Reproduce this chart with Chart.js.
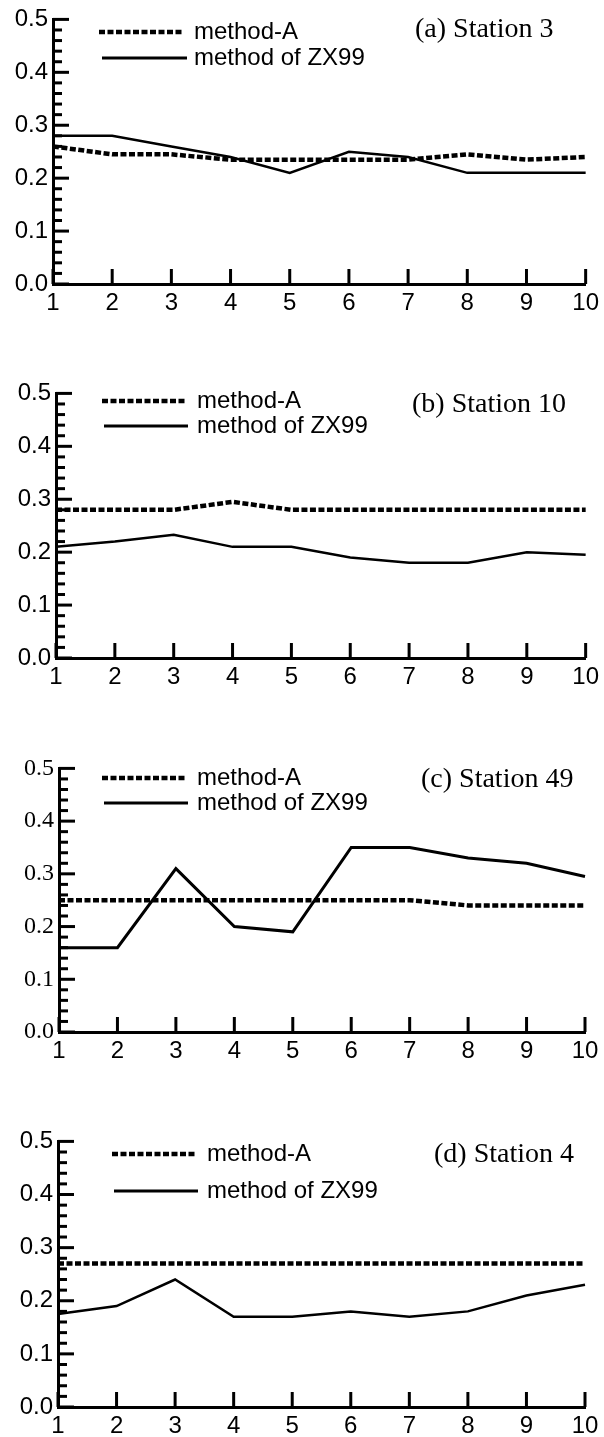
<!DOCTYPE html>
<html>
<head>
<meta charset="utf-8">
<script src="https://cdn.jsdelivr.net/npm/chart.js@4.4.1/dist/chart.umd.min.js"></script>
<style>
  html, body { margin: 0; padding: 0; background: #fff; }
  #wrap { position: relative; width: 604px; height: 1437px; overflow: hidden; background: #fff; }
  #wrap canvas { position: absolute; left: 0; }
</style>
</head>
<body>
<div id="wrap"></div>
<script>
// Categories along the horizontal axis
const steps = ['1', '2', '3', '4', '5', '6', '7', '8', '9', '10'];

// Series values per station
const station3MethodA = [0.26, 0.245, 0.245, 0.235, 0.235, 0.235, 0.235, 0.245, 0.235, 0.24];
const station3ZX99    = [0.28, 0.28, 0.26, 0.24, 0.21, 0.25, 0.24, 0.21, 0.21, 0.21];

const station10MethodA = [0.28, 0.28, 0.28, 0.295, 0.28, 0.28, 0.28, 0.28, 0.28, 0.28];
const station10ZX99    = [0.21, 0.22, 0.233, 0.21, 0.21, 0.19, 0.18, 0.18, 0.2, 0.195];

const station49MethodA = [0.25, 0.25, 0.25, 0.25, 0.25, 0.25, 0.25, 0.24, 0.24, 0.24];
const station49ZX99    = [0.16, 0.16, 0.31, 0.2, 0.19, 0.35, 0.35, 0.33, 0.32, 0.295];

const station4MethodA = [0.27, 0.27, 0.27, 0.27, 0.27, 0.27, 0.27, 0.27, 0.27, 0.27];
const station4ZX99    = [0.175, 0.19, 0.24, 0.17, 0.17, 0.18, 0.17, 0.18, 0.21, 0.23];

// Legend entries and panel captions
const legendLabels = ['method-A', 'method of ZX99'];
const panelTitles = ['(a) Station 3', '(b) Station 10', '(c) Station 49', '(d) Station 4'];

// Value axis range and label step
const yMin = 0, yMax = 0.5, yMajorStep = 0.1, yMinorStep = 0.02;

const SANS = "'Liberation Sans', Arial, sans-serif";
const SERIF = "'Liberation Serif', 'Times New Roman', serif";

// Page placement of each panel (plot box, legend and caption positions)
const panels = [
  { title: panelTitles[0], methodA: station3MethodA, zx99: station3ZX99,
    box: { left: 53, right: 586, top: 16, bottom: 284 },
    legend: { dx1: 99, dx2: 184, dy: 32, sx1: 102, sx2: 187, sy: 58, tx: 194 },
    caption: { x: 415, y: 30 }, yFont: SANS, zWidth: 2.5 },
  { title: panelTitles[1], methodA: station10MethodA, zx99: station10ZX99,
    box: { left: 56, right: 588, top: 390, bottom: 658 },
    legend: { dx1: 102, dx2: 187, dy: 401, sx1: 104, sx2: 188, sy: 426, tx: 197 },
    caption: { x: 412, y: 405 }, yFont: SANS, zWidth: 2.5 },
  { title: panelTitles[2], methodA: station49MethodA, zx99: station49ZX99,
    box: { left: 59, right: 585, top: 765, bottom: 1032 },
    legend: { dx1: 102, dx2: 187, dy: 778, sx1: 104, sx2: 188, sy: 803, tx: 197 },
    caption: { x: 421, y: 780 }, yFont: SERIF, zWidth: 3 },
  { title: panelTitles[3], methodA: station4MethodA, zx99: station4ZX99,
    box: { left: 58, right: 585, top: 1138, bottom: 1407 },
    legend: { dx1: 112, dx2: 197, dy: 1154, sx1: 114, sx2: 198, sy: 1191, tx: 207 },
    caption: { x: 434, y: 1155 }, yFont: SANS, zWidth: 2.5 }
];

const PAD_TOP = 16;
const X_AXIS_H = 44;
const DASH = [6, 2.5];
const DASH_WIDTH = 4.5;
const AXIS_WIDTH = 3;

// Inward tick marks, legend and caption for one panel
function decorations(p, offsetY) {
  return {
    id: 'decorations',
    afterDraw(chart) {
      const ctx = chart.ctx;
      const xs = chart.scales.x, ys = chart.scales.y, area = chart.chartArea;
      ctx.save();
      ctx.strokeStyle = '#000';
      ctx.lineCap = 'butt';
      ctx.lineWidth = AXIS_WIDTH;
      const nMinor = Math.round((yMax - yMin) / yMinorStep);
      const perMajor = Math.round(yMajorStep / yMinorStep);
      for (let k = 0; k <= nMinor; k++) {
        const y = ys.getPixelForValue(yMin + k * yMinorStep);
        const len = (k % perMajor === 0) ? 16 : 9;
        ctx.beginPath();
        ctx.moveTo(area.left, y);
        ctx.lineTo(area.left + len, y);
        ctx.stroke();
      }
      steps.forEach((s, i) => {
        const x = xs.getPixelForValue(i);
        ctx.beginPath();
        ctx.moveTo(x, area.bottom);
        ctx.lineTo(x, area.bottom - 15);
        ctx.stroke();
      });

      // legend samples
      const L = p.legend;
      ctx.lineWidth = DASH_WIDTH;
      ctx.setLineDash(DASH);
      ctx.beginPath();
      ctx.moveTo(L.dx1, L.dy - offsetY);
      ctx.lineTo(L.dx2, L.dy - offsetY);
      ctx.stroke();
      ctx.setLineDash([]);
      ctx.lineWidth = 3;
      ctx.beginPath();
      ctx.moveTo(L.sx1, L.sy - offsetY);
      ctx.lineTo(L.sx2, L.sy - offsetY);
      ctx.stroke();

      ctx.fillStyle = '#000';
      ctx.textBaseline = 'middle';
      ctx.textAlign = 'left';
      ctx.font = '24px ' + SANS;
      ctx.fillText(legendLabels[0], L.tx, L.dy - offsetY);
      ctx.fillText(legendLabels[1], L.tx, L.sy - offsetY);

      ctx.font = '28px ' + SERIF;
      ctx.fillText(p.title, p.caption.x, p.caption.y - offsetY);
      ctx.restore();
    }
  };
}

const wrap = document.getElementById('wrap');

panels.forEach((p) => {
  const offsetY = p.box.top - PAD_TOP;
  const h = (p.box.bottom - p.box.top) + PAD_TOP + X_AXIS_H;
  const canvas = document.createElement('canvas');
  canvas.width = 604;
  canvas.height = h;
  canvas.style.width = '604px';
  canvas.style.height = h + 'px';
  canvas.style.top = offsetY + 'px';
  wrap.appendChild(canvas);

  new Chart(canvas, {
    type: 'line',
    data: {
      labels: steps,
      datasets: [
        { label: legendLabels[0], data: p.methodA, borderColor: '#000', borderWidth: DASH_WIDTH,
          borderDash: DASH, borderCapStyle: 'butt', pointRadius: 0, fill: false, tension: 0 },
        { label: legendLabels[1], data: p.zx99, borderColor: '#000', borderWidth: p.zWidth,
          pointRadius: 0, fill: false, tension: 0 }
      ]
    },
    options: {
      responsive: false,
      animation: false,
      devicePixelRatio: 1,
      layout: { padding: { top: PAD_TOP, left: 0, right: 604 - p.box.right, bottom: 0 } },
      plugins: { legend: { display: false }, tooltip: { enabled: false }, title: { display: false } },
      scales: {
        x: {
          grid: { display: false, drawTicks: false },
          border: { display: true, color: '#000', width: AXIS_WIDTH },
          ticks: { color: '#000', font: { family: SANS, size: 24 }, padding: 5,
                   maxRotation: 0, autoSkip: false },
          afterFit(s) { s.height = X_AXIS_H; }
        },
        y: {
          min: yMin, max: yMax,
          grid: { display: false, drawTicks: false },
          border: { display: true, color: '#000', width: AXIS_WIDTH },
          ticks: { stepSize: yMajorStep, color: '#000', font: { family: p.yFont, size: 24 },
                   padding: 5, callback: (v) => Number(v).toFixed(1) },
          afterFit(s) { s.width = p.box.left; }
        }
      }
    },
    plugins: [decorations(p, offsetY)]
  });
});
</script>
</body>
</html>
